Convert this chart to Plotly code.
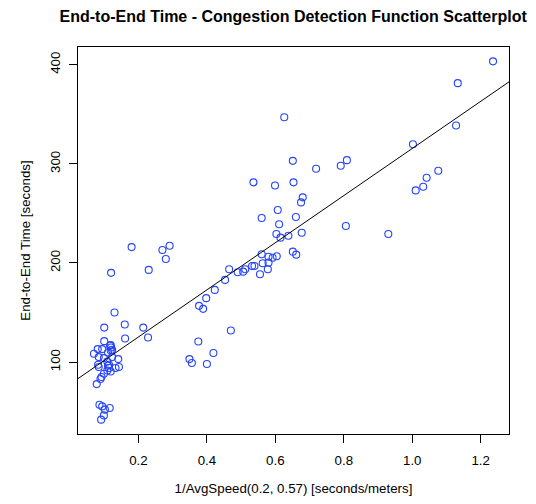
import plotly.graph_objects as go

# 1/AvgSpeed values (x) and End-to-End Time (y)
inv_speed = [
    1.236, 1.133, 1.128, 1.002, 1.076, 1.042, 1.032, 1.010, 0.930,
    0.626, 0.651, 0.719, 0.791, 0.809, 0.536, 0.599, 0.653, 0.680, 0.675,
    0.607, 0.560, 0.660, 0.611, 0.806, 0.603, 0.615, 0.638, 0.677, 0.651,
    0.661, 0.560, 0.580, 0.592, 0.604, 0.563, 0.580, 0.578, 0.555, 0.532, 0.539,
    0.512, 0.506, 0.490, 0.465, 0.453, 0.423, 0.398, 0.377, 0.389, 0.470,
    0.375, 0.419, 0.349, 0.356, 0.400, 0.291,
    0.180, 0.270, 0.280, 0.230, 0.120,
    0.130, 0.100, 0.160, 0.214, 0.228, 0.161, 0.100, 0.119, 0.120, 0.070,
    0.081, 0.094, 0.084, 0.099, 0.111, 0.119, 0.123, 0.141, 0.109, 0.082,
    0.084, 0.111, 0.114, 0.109, 0.119, 0.133, 0.143, 0.099, 0.092, 0.089,
    0.078, 0.117, 0.123, 0.114,
    0.086, 0.094, 0.102, 0.116, 0.099, 0.091,
]
e2e_time = [
    403.4, 381.4, 338.7, 319.8, 293.0, 285.9, 276.8, 273.2, 229.2,
    347.0, 303.0, 295.0, 298.0, 303.7, 281.3, 278.2, 281.3, 266.2, 261.1,
    253.4, 245.3, 246.3, 239.0, 237.3, 229.2, 225.5, 227.5, 230.5, 211.4,
    208.4, 208.8, 206.3, 205.3, 206.7, 199.7, 200.3, 193.7, 188.6, 197.0, 197.0,
    193.7, 191.2, 190.6, 193.7, 182.9, 172.8, 164.5, 156.7, 153.7, 131.8,
    120.7, 109.1, 103.0, 99.0, 98.0, 217.4,
    216.0, 213.0, 204.0, 193.0, 190.0,
    150.0, 134.8, 137.9, 134.8, 124.8, 123.8, 121.1, 117.1, 114.7, 108.4,
    113.1, 113.1, 105.0, 104.0, 109.7, 111.7, 105.0, 103.0, 100.6, 97.3,
    95.0, 96.3, 94.0, 91.5, 90.5, 94.0, 95.0, 88.2, 84.9, 82.9,
    77.8, 116.4, 112.4, 97.3,
    57.0, 55.3, 52.0, 53.7, 46.2, 41.9,
]

# regression line coefficients
fit_intercept = 77.8
fit_slope = 237.7

x_ticks = [0.2, 0.4, 0.6, 0.8, 1.0, 1.2]
y_ticks = [100, 200, 300, 400]

def r_range(v):
    lo, hi = min(v), max(v)
    d = hi - lo
    return [lo - 0.04 * d, hi + 0.04 * d]

xr = r_range(inv_speed)
yr = r_range(e2e_time)

point_color = "#2444ff"

fig = go.Figure()
fig.add_trace(go.Scatter(
    x=inv_speed, y=e2e_time, mode="markers",
    marker=dict(symbol="circle-open", size=7, color=point_color,
                line=dict(width=1.1, color=point_color)),
    showlegend=False, hoverinfo="x+y",
))
fig.add_trace(go.Scatter(
    x=xr, y=[fit_intercept + fit_slope * v for v in xr], mode="lines",
    line=dict(color="black", width=1), showlegend=False, hoverinfo="skip",
))

font = "Liberation Sans, Arial, Helvetica, sans-serif"
axis_common = dict(
    showgrid=False, zeroline=False, showline=True, mirror=True,
    linecolor="black", linewidth=1, ticks="outside", ticklen=8,
    tickcolor="black", tickwidth=1,
    tickfont=dict(family=font, size=13.3, color="black"),
)

fig.update_layout(
    width=536, height=504,
    margin=dict(l=78, r=27, t=47, b=70),
    paper_bgcolor="white", plot_bgcolor="white",
    title=dict(text="<b>End-to-End Time - Congestion Detection Function Scatterplot</b>",
               x=0.547, xanchor="center", y=0.968, yanchor="middle",
               font=dict(family=font, size=16, color="black")),
    xaxis=dict(range=xr, tickvals=x_ticks, ticktext=[f"{v:.1f}" for v in x_ticks],
               ticklabelstandoff=6,
               title=dict(text="1/AvgSpeed(0.2, 0.57) [seconds/meters]",
                          font=dict(family=font, size=13.3, color="black"), standoff=16),
               **axis_common),
    yaxis=dict(range=yr, tickvals=y_ticks, ticktext=[str(v) for v in y_ticks],
               tickangle=-90, ticklabelstandoff=4,
               title=dict(text="End-to-End Time [seconds]",
                          font=dict(family=font, size=13.3, color="black"), standoff=14),
               **axis_common),
)

fig.write_html("out.html",
               config={"displayModeBar": False},
               post_script="document.body.style.margin='0';document.body.style.padding='0';")
